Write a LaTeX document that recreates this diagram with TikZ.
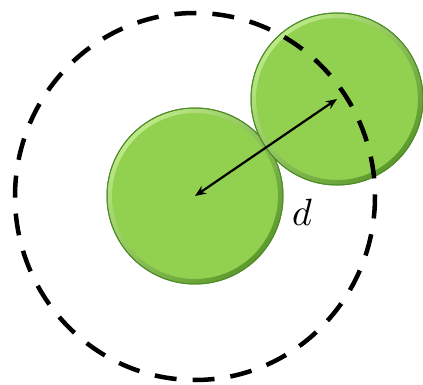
\documentclass[tikz,border=0pt]{standalone}
\usetikzlibrary{arrows.meta}
\definecolor{ballfill}{RGB}{146,208,80}
\definecolor{balledge}{RGB}{78,140,40}
\definecolor{balllight}{RGB}{200,240,150}
\definecolor{balldark}{RGB}{80,140,35}
\tikzset{
  ball/.style={fill=ballfill, draw=balledge, line width=1pt},
  bevel/.style={even odd rule, top color=balllight, bottom color=balldark, shading angle=45, opacity=0.8},
  cutoffring/.style={draw=black, line width=4.5pt, dash pattern=on 22pt off 16pt},
  dist/.style={draw=black, line width=2.2pt, {Stealth[length=11pt,width=9pt]}-{Stealth[length=11pt,width=9pt]}},
}
\begin{document}
\begin{tikzpicture}[x=1pt,y=-1pt]
\useasboundingbox (0,0) rectangle (423,385);
% particle 1
\coordinate (c1) at (195,196);
\coordinate (c2) at (337,99);
\path[ball] (c1) circle (88);
\shade[bevel] (c1) circle (87.5) (c1) circle (83);
\path[ball, fill=none] (c1) circle (88);
% particle 2
\path[ball] (c2) circle (86);
\shade[bevel] (c2) circle (85.5) (c2) circle (81);
\path[ball, fill=none] (c2) circle (86);
% cutoff range
\draw[cutoffring] (195,196.5) ellipse [x radius=180, y radius=183.5];
% distance
\draw[dist] (c1) -- (c2);
\node[inner sep=0pt, scale=3.8] (lab) at (302,212) {$d$};
\end{tikzpicture}
\end{document}
